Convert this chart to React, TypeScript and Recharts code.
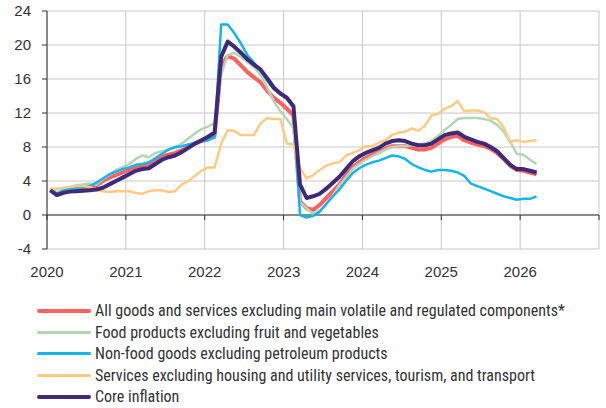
import { LineChart, Line, XAxis, YAxis, CartesianGrid, ReferenceLine } from "recharts";

document.body.style.margin = "0";

// monthly y/y, % — Jan 2020 .. Mar 2026
const startYear = 2020;
const allGoods = [
  3.0, 2.5, 2.8, 3.0, 3.1, 3.2, 3.3, 3.5, 4.0, 4.4, 4.7, 5.0,
  5.3, 5.7, 5.8, 6.0, 6.5, 6.9, 7.1, 7.3, 7.6, 8.0, 8.4, 8.7,
  8.9, 9.4, 17.6, 18.7, 18.4, 17.6, 16.8, 16.2, 15.6, 14.6, 13.8, 13.2,
  12.5, 11.7, 1.6, 0.8, 0.6, 1.2, 2.0, 2.8, 3.6, 4.7, 5.6, 6.2,
  6.7, 7.1, 7.4, 7.8, 8.1, 8.1, 8.1, 7.9, 7.7, 7.7, 7.9, 8.4,
  8.9, 9.2, 9.3, 8.8, 8.5, 8.3, 8.1, 7.8, 7.3, 6.6, 5.8, 5.3,
  5.2, 5.0, 4.8,
];
const food = [
  3.0, 2.7, 3.0, 3.3, 3.5, 3.6, 3.7, 3.6, 4.2, 4.7, 5.3, 5.6,
  6.0, 6.6, 7.0, 6.8, 7.3, 7.5, 7.7, 7.9, 8.4, 9.0, 9.6, 10.1,
  10.4, 10.8, 16.5, 18.8, 19.1, 18.6, 18.0, 17.4, 16.5, 15.0, 13.4, 12.2,
  11.3, 10.2, 1.5, 0.8, 0.1, 0.5, 1.3, 2.3, 3.5, 4.4, 5.4, 6.0,
  6.5, 6.9, 7.3, 7.7, 8.0, 8.1, 8.1, 8.2, 8.3, 8.4, 8.7, 9.3,
  10.0, 10.6, 11.3, 11.4, 11.4, 11.4, 11.3, 11.1, 10.6, 9.8, 8.6, 7.2,
  7.1, 6.5, 6.0,
];
const nonFood = [
  3.0, 2.5, 2.9, 3.1, 3.2, 3.3, 3.4, 3.8, 4.3, 4.8, 5.1, 5.4,
  5.6, 5.9, 6.0, 6.2, 6.7, 7.2, 7.7, 8.0, 8.1, 8.3, 8.5, 8.7,
  8.8, 9.1, 22.4, 22.4, 21.4, 20.2, 18.8, 17.9, 17.0, 15.8, 14.8, 14.3,
  13.8, 12.9, 0.0, -0.3, -0.1, 0.4, 1.3, 2.2, 3.0, 4.0, 4.9, 5.5,
  5.9, 6.2, 6.4, 6.7, 7.0, 6.9, 6.6, 6.0, 5.6, 5.3, 5.1, 5.3,
  5.3, 5.2, 5.0, 4.6, 3.7, 3.4, 3.1, 2.8, 2.5, 2.2, 2.0, 1.8,
  1.9, 1.9, 2.2,
];
const services = [
  3.1, 3.1, 3.2, 3.3, 3.4, 3.4, 3.3, 2.9, 2.8, 2.7, 2.8, 2.8,
  2.8, 2.6, 2.5, 2.8, 2.9, 2.9, 2.7, 2.8, 3.6, 4.0, 4.6, 5.2,
  5.6, 5.6, 8.4, 10.0, 9.9, 9.4, 9.4, 9.4, 10.8, 11.4, 11.3, 11.3,
  8.4, 8.3, 5.5, 4.3, 4.7, 5.3, 5.8, 6.1, 6.2, 7.0, 7.3, 7.6,
  8.1, 8.1, 8.5, 8.8, 9.4, 9.7, 9.8, 10.2, 9.9, 10.5, 11.7, 11.9,
  12.5, 12.8, 13.4, 12.2, 12.3, 12.3, 12.1, 11.4, 11.3, 10.3, 8.6, 8.8,
  8.6, 8.7, 8.8,
];
const core = [
  2.9, 2.35, 2.6, 2.75, 2.8, 2.85, 2.9, 3.0, 3.2, 3.6, 4.0, 4.4,
  4.8, 5.2, 5.4, 5.5, 6.0, 6.5, 6.8, 7.0, 7.4, 7.9, 8.4, 8.8,
  9.2, 9.7, 18.6, 20.4, 19.8, 19.1, 18.3, 17.7, 17.1, 16.1, 15.0, 14.3,
  13.8, 12.8, 3.6, 2.0, 2.2, 2.5, 3.1, 3.8, 4.5, 5.4, 6.3, 6.9,
  7.3, 7.6, 7.9, 8.4, 8.7, 8.8, 8.7, 8.4, 8.2, 8.2, 8.4, 8.9,
  9.4, 9.6, 9.7, 9.2, 8.9, 8.6, 8.4, 8.0, 7.5, 6.7, 5.9, 5.4,
  5.4, 5.2, 5.0,
];

const years = [2020, 2021, 2022, 2023, 2024, 2025, 2026, 2027];
const yTicks = [-4, 0, 4, 8, 12, 16, 20, 24];

const series = [
  { k: "allGoods", label: "All goods and services excluding main volatile and regulated components*", color: "#ff6161", width: 4, sw: 3.5 },
  { k: "food", label: "Food products excluding fruit and vegetables", color: "#b5d6b5", width: 2.5, sw: 2.5 },
  { k: "nonFood", label: "Non-food goods excluding petroleum products", color: "#13b5ea", width: 2.5, sw: 3 },
  { k: "services", label: "Services excluding housing and utility services, tourism, and transport", color: "#ffcb84", width: 2.5, sw: 2.5 },
  { k: "core", label: "Core inflation", color: "#3d2b78", width: 4, sw: 3.5 },
];

const data = core.map((_, i) => ({
  t: startYear + (i + 0.5) / 12,
  allGoods: allGoods[i],
  food: food[i],
  nonFood: nonFood[i],
  services: services[i],
  core: core[i],
}));

const tickFont = { fill: "#333", fontSize: 15, fontFamily: "Liberation Sans, Arial, sans-serif" };

export default function App() {
  return (
    <div style={{ position: "relative", width: 606, height: 408, background: "#fff" }}>
      <LineChart width={606} height={290} data={data} margin={{ top: 11, right: 7, bottom: 0, left: 0 }}>
        <CartesianGrid stroke="#c8c8c8" />
        <XAxis
          type="number" dataKey="t" domain={[2020, 2027]} ticks={years}
          tickFormatter={(v) => (v === 2027 ? "" : String(v))}
          axisLine={false} tickLine={false} tickSize={6} tickMargin={11} height={41}
          tick={tickFont}
        />
        <YAxis
          domain={[-4, 24]} ticks={yTicks} width={47}
          axisLine={{ stroke: "#333" }} tickLine={{ stroke: "#333" }} tickSize={5} tickMargin={11}
          tick={tickFont}
        />
        <ReferenceLine y={0} stroke="#333" />
        {years.map((yr) => (
          <ReferenceLine key={yr} segment={[{ x: yr, y: 0 }, { x: yr, y: -0.6 }]} stroke="#333" />
        ))}
        {series.map((s) => (
          <Line key={s.k} type="linear" dataKey={s.k} stroke={s.color} strokeWidth={s.width}
            dot={false} isAnimationActive={false} strokeLinejoin="round" />
        ))}
      </LineChart>
      <div style={{ position: "absolute", left: 37, top: 300, fontFamily: "'Liberation Sans Narrow', 'Roboto Condensed', 'DejaVu Sans Condensed', sans-serif", fontSize: 16, color: "#333" }}>
        {series.map((s) => (
          <div key={s.k} style={{ display: "flex", alignItems: "center", height: 21.5, whiteSpace: "nowrap" }}>
            <span style={{ display: "inline-block", width: 54, height: s.sw, background: s.color, borderRadius: 2, marginRight: 4 }} />
            <span>{s.label}</span>
          </div>
        ))}
      </div>
    </div>
  );
}
